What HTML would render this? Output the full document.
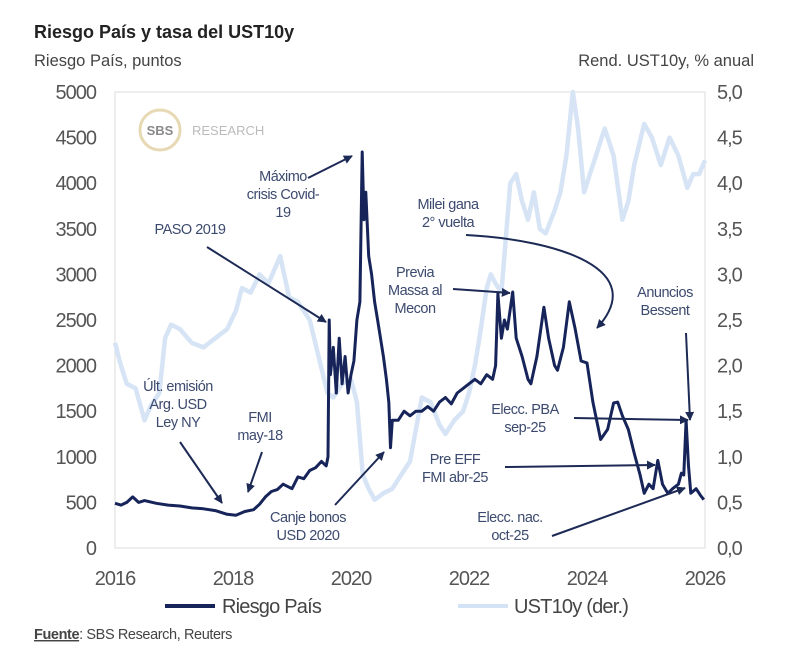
<!DOCTYPE html>
<html><head><meta charset="utf-8">
<style>
body{margin:0;background:#fff;width:800px;height:663px;overflow:hidden;font-family:"Liberation Sans",sans-serif;}
svg text{font-family:"Liberation Sans",sans-serif;}
.ann{font-size:14.5px;fill:#3c4a6e;text-anchor:middle;letter-spacing:-0.5px}
.tick{font-size:20px;fill:#555;letter-spacing:-1px}
</style></head>
<body>
<svg id="chart" width="800" height="663" xmlns="http://www.w3.org/2000/svg">
<defs><marker id="ah" viewBox="0 0 10 10" refX="9" refY="5" markerWidth="4.5" markerHeight="4.5" orient="auto"><path d="M0,0L10,5L0,10z" fill="#1c2a55"/></marker></defs>
<text x="34" y="38" font-size="18" font-weight="bold" fill="#222">Riesgo País y tasa del UST10y</text>
<text x="34" y="66" font-size="16.5" fill="#444">Riesgo País, puntos</text>
<text x="754" y="66" font-size="16.5" fill="#444" text-anchor="end">Rend. UST10y, % anual</text>
<rect x="115" y="92" width="590" height="456" fill="none" stroke="#ddd" stroke-width="1"/>
<g>
<circle cx="160" cy="130" r="20" fill="none" stroke="#e8d9b5" stroke-width="3"/>
<text x="160" y="135" font-size="13" font-weight="bold" fill="#8a8a8a" text-anchor="middle">SBS</text>
<text x="192" y="135" font-size="13" fill="#bbb">RESEARCH</text>
</g>
<g id="axes"></g>
<g id="series"></g>
<g id="annotations"></g>
<g>
<line x1="165" y1="606" x2="215" y2="606" stroke="#16245a" stroke-width="4"/>
<text x="222" y="613" font-size="20" fill="#444" letter-spacing="-0.8">Riesgo País</text>
<line x1="458" y1="606" x2="508" y2="606" stroke="#d3e2f4" stroke-width="4"/>
<text x="514" y="613" font-size="20" fill="#444" letter-spacing="-0.8">UST10y (der.)</text>
</g>
<text x="34" y="639" font-size="14.5" fill="#444" letter-spacing="-0.4"><tspan text-decoration="underline" font-weight="bold">Fuente</tspan>: SBS Research, Reuters</text>
</svg>
<script>
const xTicks=[2016,2018,2020,2022,2024,2026];
const yLeftTicks=[0,500,1000,1500,2000,2500,3000,3500,4000,4500,5000];
const yRightTicks=["0,0","0,5","1,0","1,5","2,0","2,5","3,0","3,5","4,0","4,5","5,0"];
const rpDates=[2016.0,2016.1,2016.2,2016.3,2016.4,2016.5,2016.7,2016.9,2017.1,2017.3,2017.5,2017.7,2017.9,2018.05,2018.2,2018.35,2018.45,2018.55,2018.65,2018.75,2018.85,2019.0,2019.1,2019.2,2019.3,2019.4,2019.5,2019.58,2019.61,2019.63,2019.65,2019.7,2019.75,2019.8,2019.85,2019.9,2019.95,2020.0,2020.05,2020.1,2020.15,2020.19,2020.22,2020.25,2020.3,2020.35,2020.4,2020.45,2020.5,2020.55,2020.6,2020.64,2020.67,2020.7,2020.8,2020.9,2021.0,2021.1,2021.2,2021.3,2021.4,2021.5,2021.6,2021.7,2021.8,2021.9,2022.0,2022.1,2022.2,2022.3,2022.4,2022.45,2022.49,2022.55,2022.6,2022.65,2022.74,2022.8,2022.9,2023.0,2023.05,2023.15,2023.27,2023.35,2023.45,2023.5,2023.6,2023.7,2023.8,2023.9,2024.0,2024.1,2024.23,2024.35,2024.45,2024.52,2024.6,2024.7,2024.8,2024.9,2024.97,2025.05,2025.12,2025.2,2025.28,2025.37,2025.45,2025.55,2025.6,2025.64,2025.68,2025.72,2025.76,2025.85,2025.92,2025.98];
const rpValues=[490,470,500,560,500,520,490,470,460,440,430,410,370,360,400,420,480,560,620,640,700,650,780,760,850,880,950,900,1000,2500,1900,2200,1700,2300,1800,2100,1700,1900,2050,2500,2700,4342,3600,3900,3200,3000,2700,2500,2300,2100,1850,1600,1100,1400,1400,1500,1450,1500,1500,1550,1500,1600,1650,1580,1700,1750,1800,1850,1800,1900,1850,2000,2790,2300,2500,2400,2807,2300,2100,1850,1800,2100,2640,2300,2000,1950,2200,2700,2400,2050,2030,1600,1190,1300,1590,1600,1450,1300,1040,800,600,700,650,960,700,600,650,700,820,800,1400,900,600,650,580,530];
const ustDates=[2016.0,2016.1,2016.2,2016.35,2016.5,2016.6,2016.75,2016.85,2016.95,2017.1,2017.3,2017.5,2017.7,2017.9,2018.05,2018.15,2018.3,2018.45,2018.6,2018.8,2018.95,2019.1,2019.3,2019.45,2019.6,2019.7,2019.85,2020.0,2020.1,2020.2,2020.3,2020.4,2020.55,2020.7,2020.85,2021.0,2021.1,2021.2,2021.35,2021.5,2021.6,2021.75,2021.9,2022.0,2022.1,2022.2,2022.3,2022.37,2022.45,2022.55,2022.7,2022.8,2022.9,2023.0,2023.1,2023.2,2023.3,2023.45,2023.55,2023.65,2023.76,2023.85,2023.95,2024.05,2024.15,2024.3,2024.45,2024.6,2024.7,2024.8,2024.97,2025.1,2025.25,2025.4,2025.55,2025.7,2025.8,2025.9,2026.0];
const ustValues=[2.25,2.0,1.8,1.75,1.4,1.55,1.7,2.3,2.45,2.4,2.25,2.2,2.3,2.4,2.6,2.85,2.8,3.0,2.9,3.2,2.75,2.7,2.5,2.1,1.7,1.65,1.8,1.85,1.6,0.8,0.65,0.53,0.6,0.65,0.8,0.95,1.3,1.65,1.6,1.35,1.25,1.4,1.5,1.7,2.0,2.4,2.85,3.0,2.9,2.8,4.0,4.1,3.8,3.6,3.9,3.5,3.45,3.7,3.9,4.3,5.0,4.6,3.9,4.1,4.3,4.6,4.3,3.6,3.8,4.2,4.65,4.5,4.2,4.5,4.3,3.95,4.1,4.1,4.25];
const NS="http://www.w3.org/2000/svg";
const L=115,R=705,T=92,B=548;
function xs(t){return L+(t-2016)/10*(R-L);}
function yl(v){return B-v/5000*(B-T);}
function yr(v){return B-v/5*(B-T);}
function mk(tag,attrs,parent){const e=document.createElementNS(NS,tag);for(const k in attrs)e.setAttribute(k,attrs[k]);parent.appendChild(e);return e;}
const axes=document.getElementById('axes');
xTicks.forEach(t=>{const e=mk('text',{x:xs(t),y:585,'text-anchor':'middle','class':'tick'},axes);e.textContent=t;

});
yLeftTicks.forEach(v=>{const e=mk('text',{x:96,y:yl(v)+7,'text-anchor':'end','class':'tick'},axes);e.textContent=v;

});
yRightTicks.forEach((s,i)=>{const e=mk('text',{x:717,y:yr(i*0.5)+7,'class':'tick'},axes);e.textContent=s;

});
const ser=document.getElementById('series');
const up=mk('path',{d:ustDates.map((t,i)=>(i?'L':'M')+xs(t).toFixed(1)+','+yr(ustValues[i]).toFixed(1)).join(''),fill:'none',stroke:'#d6e4f5','stroke-width':4.5,'stroke-linejoin':'round'},ser);


const rp=mk('path',{d:rpDates.map((t,i)=>(i?'L':'M')+xs(t).toFixed(1)+','+yl(rpValues[i]).toFixed(1)).join(''),fill:'none',stroke:'#16245a','stroke-width':3,'stroke-linejoin':'round'},ser);


const ann=document.getElementById('annotations');
const notes=[
 {name:'ann-ult-emision',lines:['Últ. emisión','Arg. USD','Ley NY'],x:178,y:391,a:'M180,442L222,503'},
 {name:'ann-fmi-may18',lines:['FMI','may-18'],x:260,y:422,a:'M262,452L248,492'},
 {name:'ann-paso-2019',lines:['PASO 2019'],x:190,y:234,a:'M207,247L326,322'},
 {name:'ann-maximo-covid',lines:['Máximo','crisis Covid-','19'],x:283,y:181,a:'M308,178L352,156'},
 {name:'ann-canje-bonos',lines:['Canje bonos','USD 2020'],x:308,y:522,a:'M335,505L384,452'},
 {name:'ann-milei',lines:['Milei gana','2° vuelta'],x:448,y:209,a:'M466,235C560,240 650,270 597,328'},
 {name:'ann-massa',lines:['Previa','Massa al','Mecon'],x:415,y:277,a:'M453,289L510,293'},
 {name:'ann-bessent',lines:['Anuncios','Bessent'],x:665,y:297,a:'M686,333L690,420'},
 {name:'ann-pba',lines:['Elecc. PBA','sep-25'],x:525,y:414,a:'M574,418L688,420'},
 {name:'ann-pre-eff',lines:['Pre EFF','FMI abr-25'],x:455,y:464,a:'M505,467L655,465'},
 {name:'ann-elecc-nac',lines:['Elecc. nac.','oct-25'],x:510,y:522,a:'M552,536L685,488'}];
notes.forEach(n=>{const g=mk('g',{},ann);


const t=mk('text',{x:n.x,y:n.y,'class':'ann'},g);
n.lines.forEach((l,i)=>{const s=mk('tspan',{x:n.x,dy:i?18:0},t);s.textContent=l;});
mk('path',{d:n.a,fill:'none',stroke:'#1c2a55','stroke-width':2,'marker-end':'url(#ah)'},g);});
</script>
</body></html>
